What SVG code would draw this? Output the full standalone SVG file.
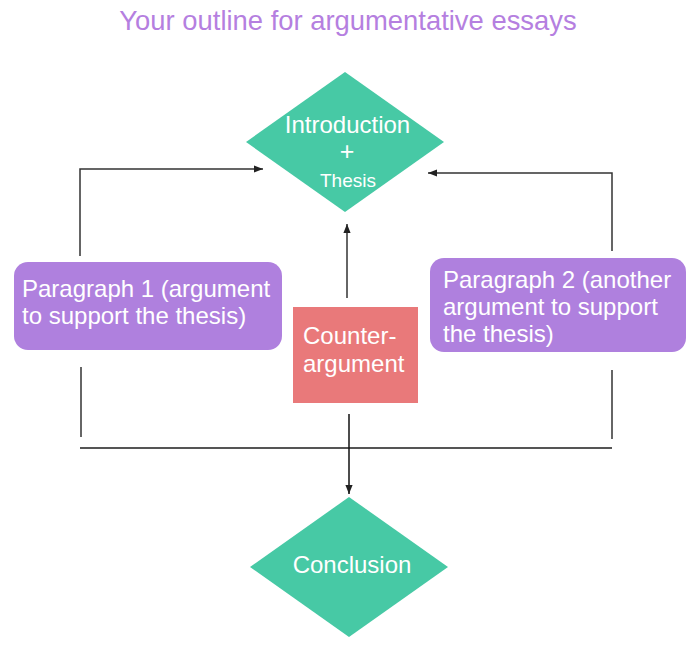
<svg xmlns="http://www.w3.org/2000/svg" width="700" height="648" viewBox="0 0 700 648">
<style>
text{font-family:"Liberation Sans",Arial,sans-serif;fill:#fff}
.t{font-size:24px}
.ln{fill:none;stroke:#333;stroke-width:1.5}
.g{fill:#47c9a5}
.p{fill:#af80de}
</style>
<defs>
<marker id="ah" viewBox="0 0 10 10" refX="10" refY="5" markerWidth="9" markerHeight="9" markerUnits="userSpaceOnUse" orient="auto">
<path d="M0,1 L10,5 L0,9 Z" fill="#222"/>
</marker>
</defs>
<rect width="700" height="648" fill="#fff"/>
<text x="348" y="30" text-anchor="middle" style="font-size:27.4px;fill:#b57fe0">Your outline for argumentative essays</text>
<g id="connectors">
<path class="ln" d="M80,256 V169 H263" marker-end="url(#ah)"/>
<path class="ln" d="M612,251 V173 H428" marker-end="url(#ah)"/>
<path class="ln" d="M347,298 V224" marker-end="url(#ah)"/>
<path class="ln" d="M81,367 V437"/>
<path class="ln" d="M612,370 V439"/>
<path d="M80,448 H612" fill="none" stroke="#555" stroke-width="2"/>
<path class="ln" d="M349,414 V494" marker-end="url(#ah)" style="stroke:#111"/>
</g>
<g id="intro">
<polygon class="g" points="345,72 444,142 345,212 246,142"/>
<text x="347.5" y="133" text-anchor="middle" class="t">Introduction</text>
<text x="347" y="160" text-anchor="middle" style="font-size:25px">+</text>
<text x="348" y="187" text-anchor="middle" style="font-size:19px">Thesis</text>
</g>
<g id="para1">
<rect class="p" x="14" y="262" width="268" height="88" rx="14"/>
<text x="22" y="297" class="t">Paragraph 1 (argument</text>
<text x="22" y="324" class="t">to support the thesis)</text>
</g>
<g id="para2">
<rect class="p" x="430" y="258" width="256" height="94" rx="14"/>
<text x="443" y="288" class="t">Paragraph 2 (another</text>
<text x="443" y="315" class="t">argument to support</text>
<text x="443" y="342" class="t">the thesis)</text>
</g>
<g id="counter">
<rect x="293" y="307" width="125" height="96" fill="#e9797a"/>
<text x="303" y="344" class="t">Counter-</text>
<text x="303" y="372" class="t">argument</text>
</g>
<g id="conclusion">
<polygon class="g" points="349,497 448,567 349,637 250,567"/>
<text x="352" y="573" text-anchor="middle" class="t">Conclusion</text>
</g>
</svg>
